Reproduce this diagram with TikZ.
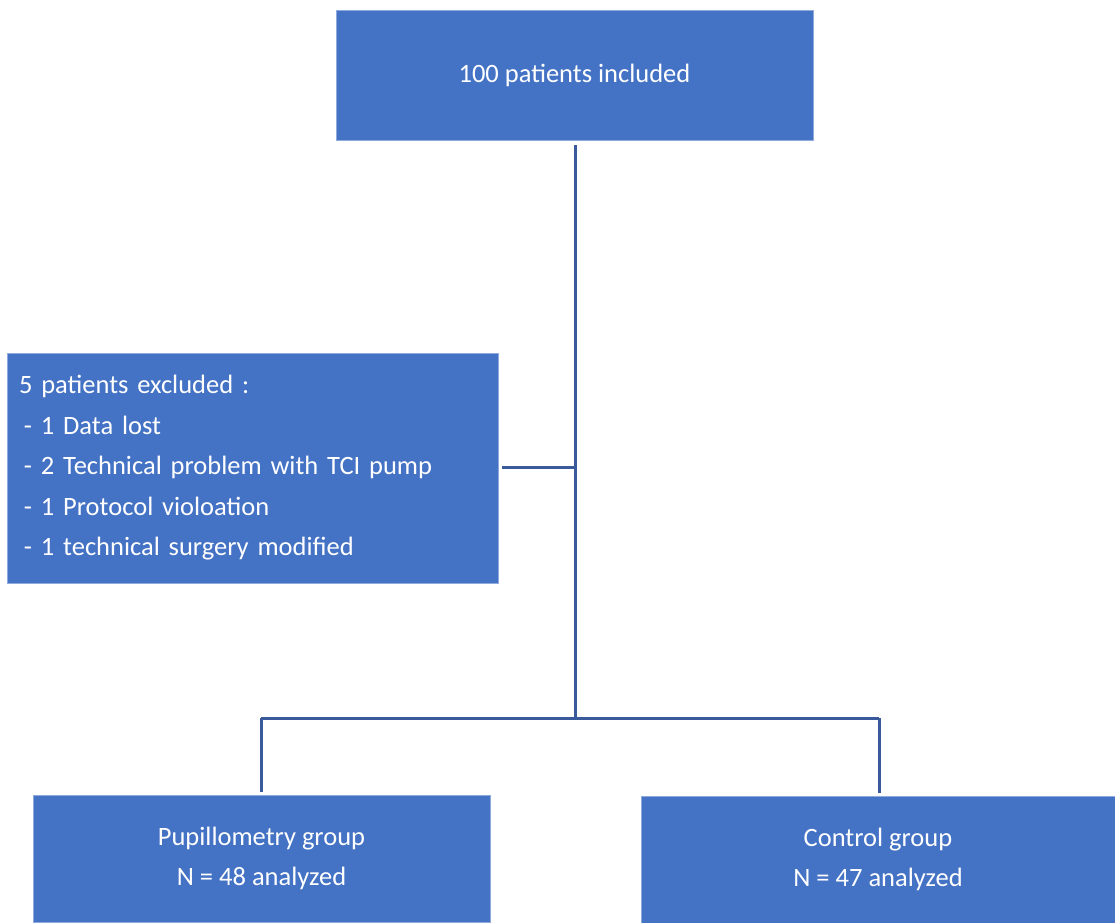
\documentclass[tikz,border=0pt]{standalone}
\usepackage{fontspec}
\setmainfont{Carlito}
\definecolor{boxfill}{HTML}{4472C4}
\definecolor{boxedge}{HTML}{8FAADC}
\definecolor{linkcol}{HTML}{3A5A9C}
\begin{document}
\begin{tikzpicture}[x=1pt,y=-1pt,
  box/.style={rectangle, fill=boxfill, draw=boxedge, line width=0.8pt, text=white, inner sep=0pt,
    font=\fontsize{26.5}{40.5}\selectfont},
  link/.style={draw=linkcol, line width=3pt}]
\useasboundingbox (0,0) rectangle (1115,922);
\node[box, minimum width=477, minimum height=130] (top) at (574.5,75) {100 patients included};
\node[box, minimum width=491, minimum height=230, align=left, text width=467] (excl) at (252.5,468)
  {\raisebox{-2pt}{}5 patients excluded :\\
   \hspace*{5pt}- 1 Data lost\\
   \hspace*{5pt}- 2 Technical problem with TCI pump\\
   \hspace*{5pt}- 1 Protocol violoation\\
   \hspace*{5pt}- 1 technical surgery modified};
\node[box, minimum width=457, minimum height=127, align=center] (pup) at (261.5,858.5)
  {Pupillometry group\\N = 48 analyzed};
\node[box, minimum width=474, minimum height=127, align=center] (ctl) at (878,859.5)
  {Control group\\N = 47 analyzed};
\coordinate (j1) at (575,467);
\coordinate (j2) at (575,718);
\coordinate (jl) at (261,718);
\coordinate (jr) at (879,718);
\draw[link] ([yshift=-5]top.south -| j1) -- (j1) -- (j2);
\draw[link] ([xshift=4]excl.east |- j1) -- (j1);
\draw[link] (jl) -- (jr);
\draw[link] (jl) -- ([yshift=3]jl |- pup.north);
\draw[link] (jr) -- ([yshift=3]jr |- ctl.north);
\end{tikzpicture}
\end{document}
